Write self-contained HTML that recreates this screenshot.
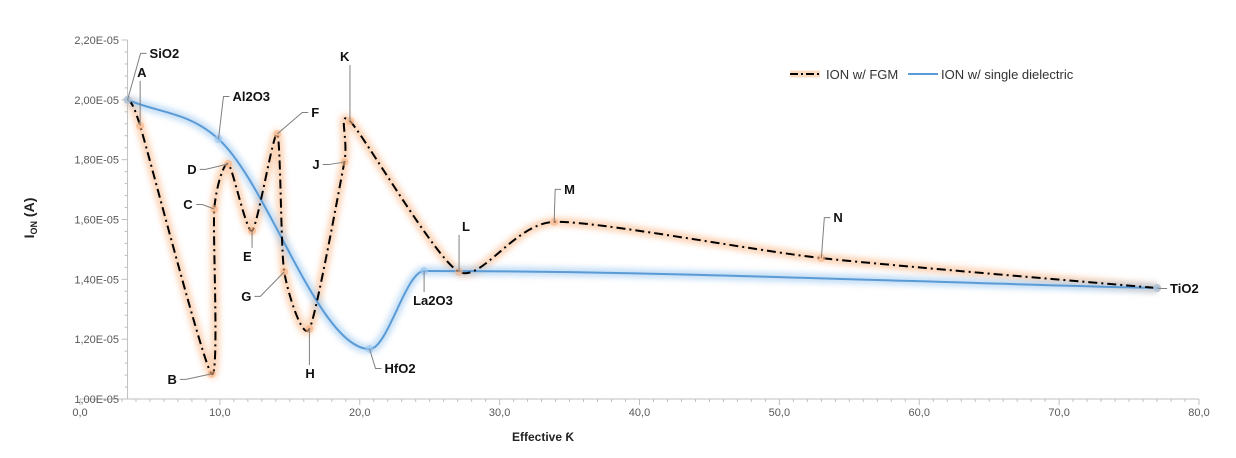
<!DOCTYPE html>
<html><head><meta charset="utf-8"><style>
body{margin:0;background:#fff;}
svg{display:block;font-family:"Liberation Sans",sans-serif;}
</style></head><body>
<svg id="chart" width="1236" height="458" viewBox="0 0 1236 458">
<defs>
<filter id="glowO" x="-10%" y="-10%" width="120%" height="120%"><feGaussianBlur stdDeviation="3"/></filter>
<filter id="glowB" x="-10%" y="-10%" width="120%" height="120%"><feGaussianBlur stdDeviation="3"/></filter>
</defs>
<g id="axes"></g>
<g id="series"></g>
<g id="labels"></g>
<text x="34" y="218" transform="rotate(-90 34 218)" text-anchor="middle" font-size="14" font-weight="bold" fill="#222">I<tspan font-size="9" dy="3">ON</tspan><tspan dy="-3"> (A)</tspan></text>
<text x="543" y="441" text-anchor="middle" font-size="12" font-weight="bold" fill="#222">Effective Ƙ</text>
<g>
<g>
<line x1="790" y1="74" x2="820" y2="74" stroke="#fbd3b4" stroke-width="7" opacity="0.8"/>
<line x1="790" y1="74" x2="820" y2="74" stroke="#000" stroke-width="2" stroke-dasharray="8,3,2,3"/>
<text x="826" y="79" font-size="13" fill="#333">ION w/ FGM</text></g>
<g>
<line x1="908" y1="74" x2="938" y2="74" stroke="#5b9bd5" stroke-width="2"/>
<text x="941" y="79" font-size="13" fill="#333">ION w/ single dielectric</text></g>
</g>
</svg>
<script>
const xTicks=[0,10,20,30,40,50,60,70,80];
const xTickLabels=["0,0","10,0","20,0","30,0","40,0","50,0","60,0","70,0","80,0"];
const yTicks=[1.0,1.2,1.4,1.6,1.8,2.0,2.2];
const yTickLabels=["1,00E-05","1,20E-05","1,40E-05","1,60E-05","1,80E-05","2,00E-05","2,20E-05"];
const fgmNames=["","A","B","C","D","E","F","G","H","J","K","L","M","N",""];
const fgmX=[3.4,4.3,9.4,9.6,10.6,12.3,14.1,14.6,16.4,18.9,19.3,27.1,33.9,53.0,77.0];
const fgmY=[2.0,1.913,1.084,1.635,1.786,1.562,1.886,1.425,1.234,1.792,1.929,1.425,1.592,1.471,1.371];
const sdNames=["SiO2","Al2O3","HfO2","La2O3","TiO2"];
const sdX=[3.4,9.9,20.7,24.6,77.0];
const sdY=[2.0,1.869,1.167,1.428,1.371];
const X=v=>80+v*13.9875;
const Y=v=>399-(v-1.0)/1.2*359;
const NS="http://www.w3.org/2000/svg";
function mk(tag,attrs,parent){const e=document.createElementNS(NS,tag);for(const k in attrs)e.setAttribute(k,attrs[k]);parent.appendChild(e);return e;}
const axes=document.getElementById('axes');
const ax=X(3.4);
const yl=mk('line',{x1:ax,y1:Y(2.2),x2:ax,y2:Y(1.0),stroke:'#bfbfbf'},axes);


const xl=mk('line',{x1:X(0),y1:Y(1.0),x2:X(80),y2:Y(1.0),stroke:'#bfbfbf'},axes);


for(let i=0;i<=80;i++){mk('line',{x1:X(i),y1:Y(1.0),x2:X(i),y2:Y(1.0)+(i%10==0?6:3),stroke:'#bfbfbf'},axes);}
for(let k=0;k<=30;k++){const v=1.0+k*0.04;const maj=k%5==0;mk('line',{x1:ax-(maj?6:3),y1:Y(v),x2:ax,y2:Y(v),stroke:'#bfbfbf'},axes);}
xTicks.forEach((t,i)=>{const e=mk('text',{x:X(t),y:416,'text-anchor':'middle','font-size':'11',fill:'#595959'},axes);e.textContent=xTickLabels[i];

});
yTicks.forEach((t,i)=>{const e=mk('text',{x:119,y:Y(t)+4,'text-anchor':'end','font-size':'11',fill:'#595959'},axes);e.textContent=yTickLabels[i];

});
function cardinal(xs,ys,t){const p=xs.map((x,i)=>[X(x),Y(ys[i])]);let d=`M${p[0][0]},${p[0][1]}`;
for(let i=0;i<p.length-1;i++){const p0=p[Math.max(i-1,0)],p1=p[i],p2=p[i+1],p3=p[Math.min(i+2,p.length-1)];
const c1=[p1[0]+(p2[0]-p0[0])*t,p1[1]+(p2[1]-p0[1])*t],c2=[p2[0]-(p3[0]-p1[0])*t,p2[1]-(p3[1]-p1[1])*t];
d+=` C${c1[0]},${c1[1]} ${c2[0]},${c2[1]} ${p2[0]},${p2[1]}`;}return d;}
function monotone(xs,ys){const p=xs.map((x,i)=>[X(x),Y(ys[i])]);const n=p.length;const dl=[],m=[];
for(let i=0;i<n-1;i++)dl.push((p[i+1][1]-p[i][1])/(p[i+1][0]-p[i][0]));
m[0]=dl[0];m[n-1]=dl[n-2];
for(let i=1;i<n-1;i++){m[i]=dl[i-1]*dl[i]<=0?0:(dl[i-1]+dl[i])/2;}
for(let i=0;i<n-1;i++){if(dl[i]==0){m[i]=m[i+1]=0;continue;}const a=m[i]/dl[i],b=m[i+1]/dl[i],s=a*a+b*b;if(s>9){const tt=3/Math.sqrt(s);m[i]=tt*a*dl[i];m[i+1]=tt*b*dl[i];}}
let d=`M${p[0][0]},${p[0][1]}`;
for(let i=0;i<n-1;i++){const h=(p[i+1][0]-p[i][0])/3;d+=` C${p[i][0]+h},${p[i][1]+m[i]*h} ${p[i+1][0]-h},${p[i+1][1]-m[i+1]*h} ${p[i+1][0]},${p[i+1][1]}`;}return d;}
const S=document.getElementById('series');
const fd=cardinal(fgmX,fgmY,0.11), sd=monotone(sdX,sdY);
mk('path',{d:fd,fill:'none',stroke:'#f9b98a',"stroke-width":9,opacity:0.6,filter:'url(#glowO)'},S);
mk('path',{d:sd,fill:'none',stroke:'#9cc8f0',"stroke-width":9,opacity:0.6,filter:'url(#glowB)'},S);
const sl=mk('path',{d:sd,fill:'none',stroke:'#5b9bd5',"stroke-width":2},S);


const fl=mk('path',{d:fd,fill:'none',stroke:'#000',"stroke-width":2,"stroke-dasharray":"9,4,2,4"},S);


fgmX.forEach((x,i)=>{const c=mk('circle',{cx:X(x),cy:Y(fgmY[i]),r:4,fill:'#f8b080',opacity:0.6},S);

});
sdX.forEach((x,i)=>{const c=mk('circle',{cx:X(x),cy:Y(sdY[i]),r:4,fill:'#9cc8f0',opacity:0.7},S);

});
// label text offsets (left x, baseline) relative to the point
const fgmOff=[null,[-3,-49],[-44,10],[-31,0],[-41,10],[-9,30],[34,-17],[-43,29],[-4,49],[-32,7],[-10,-60],[3,-41],[10,-28],[12,-36],null];
const sdOff=[[22,-42],[14,-38],[15,24],[-11,34],[13,5]];
const L=document.getElementById('labels');
function lab(px,py,off,txt,name){const tx=px+off[0],ty=py+off[1];
const e=mk('text',{x:tx,y:ty,'font-size':'13','font-weight':'bold',fill:'#111'},L);e.textContent=txt;


const b=e.getBBox();const x0=b.x-3,x1=b.x+b.width+3,y0=b.y-1,y1=b.y+b.height+1;
const ex=Math.min(Math.max(px,x0),x1),ey=Math.min(Math.max(py,y0),y1);
let pts;
if(ex==x0||ex==x1){const hx=ex==x0?ex-6:ex+6;const yy=(y0+y1)/2;pts=`${px},${py} ${hx},${yy} ${ex},${yy}`;}
else{pts=`${px},${py} ${ex},${ey}`;}
const ll=mk('polyline',{points:pts,fill:'none',stroke:'#7f7f7f','stroke-width':1},L);

}
fgmX.forEach((x,i)=>{if(fgmOff[i])lab(X(x),Y(fgmY[i]),fgmOff[i],fgmNames[i],'fgm-label');});
sdX.forEach((x,i)=>lab(X(x),Y(sdY[i]),sdOff[i],sdNames[i],'dielectric-label'));
</script>
</body></html>
